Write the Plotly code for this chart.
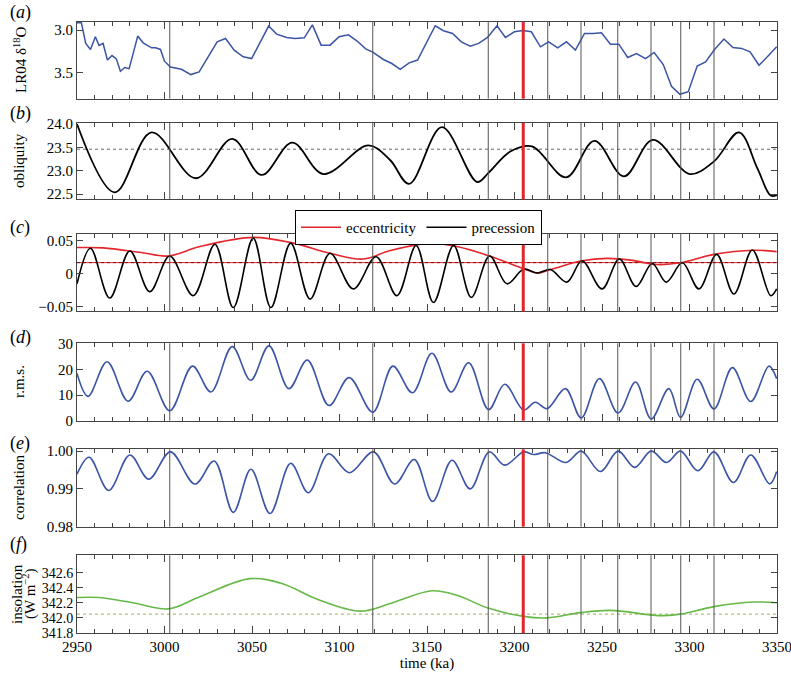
import plotly.graph_objects as go

# ---------------- data ----------------
lr04_t = [2950, 2952.5, 2955, 2957.7, 2960.5, 2962.6, 2964.9, 2967.4, 2970, 2972.5, 2974.8, 2977.3, 2979.8,
          2984.7, 2987.8, 2992.6, 2994.9, 2997.7, 3000, 3003.4, 3009.7, 3015, 3019.8, 3030.1, 3034.9, 3039.8,
          3045, 3049.8, 3059.5, 3064.1, 3069.8, 3074.6, 3079.9, 3084.5, 3089.5, 3094.6, 3099.8, 3105.1, 3109.9,
          3115, 3119, 3125.1, 3129.9, 3134.7, 3139.8, 3144.6, 3154.7, 3159.4, 3164.6, 3169.6, 3174.7, 3179.5,
          3184.6, 3190, 3194.8, 3199.9, 3204.9, 3209.6, 3214.8, 3219.5, 3224.7, 3229.7, 3234.8, 3240, 3244.9,
          3249.7, 3254.8, 3259.6, 3264.7, 3269.7, 3274.9, 3279.8, 3285, 3289.7, 3294.5, 3299.3, 3304.4, 3309.2,
          3314.3, 3319.7, 3324.8, 3329.8, 3334.6, 3339.7, 3344.5, 3349.8]
lr04_v = [2.915, 2.915, 3.156, 3.226, 3.078, 3.18, 3.156, 3.35, 3.297, 3.336, 3.48, 3.437, 3.45,
          3.07, 3.149, 3.207, 3.207, 3.226, 3.363, 3.43, 3.457, 3.519, 3.488, 3.137, 3.098, 3.234,
          3.312, 3.332, 2.953, 3.047, 3.086, 3.098, 3.09, 2.94, 3.176, 3.176, 3.078, 3.055, 3.125,
          3.219, 3.258, 3.343, 3.39, 3.457, 3.383, 3.35, 2.95, 3.008, 3.039, 3.137, 3.187, 3.156,
          3.086, 2.95, 3.086, 3.02, 3.004, 3.02, 3.195, 3.137, 3.207, 3.137, 3.234, 3.039, 3.039,
          3.031, 3.164, 3.164, 3.32, 3.273, 3.332, 3.261, 3.402, 3.656, 3.749, 3.718, 3.42, 3.371,
          3.226, 3.105, 3.203, 3.214, 3.254, 3.41, 3.312, 3.195]

obl_t = [2950, 2971.6, 2992.6, 3017.9, 3038.7, 3055.5, 3073, 3090.8, 3116.5, 3128.9, 3139.8, 3158.5,
         3178.6, 3185, 3197.6, 3210, 3229.5, 3245.7, 3262.5, 3279.1, 3300.1, 3314, 3328.3, 3338.8, 3346.4, 3350]
obl_v = [24.0, 22.54, 23.82, 22.84, 23.68, 22.91, 23.60, 22.93, 23.54, 23.23, 22.72, 23.93,
         22.76, 22.95, 23.41, 23.52, 22.86, 23.64, 22.88, 23.66, 22.93, 23.20, 23.82, 23.05, 22.47, 22.48]
obl_mean = 23.46

ecc_t = [2950, 2965, 2985.9, 3002.1, 3020.2, 3050.7, 3073.6, 3094.6, 3113.7, 3129, 3151.9, 3167.1,
         3185.2, 3205.2, 3212.9, 3220.5, 3238.6, 3252.9, 3266.3, 3281.5, 3294.9, 3314, 3336.8, 3349.8]
ecc_v = [0.0395, 0.0390, 0.0323, 0.0267, 0.041, 0.0549, 0.0462, 0.0308, 0.0221, 0.0349, 0.0462, 0.041,
         0.0272, 0.0077, 0.0010, 0.0062, 0.0195, 0.0231, 0.0205, 0.0138, 0.0164, 0.0292, 0.0354, 0.0333]
ecc_ref = 0.0167

prec_t = [2950, 2957.7, 2968.7, 2980.2, 2991.6, 3003, 3016.4, 3028.8, 3039.3, 3050.7, 3060.8, 3072.1,
          3083.2, 3094.6, 3107.9, 3120.9, 3132.8, 3143.8, 3153.7, 3165.2, 3175.3, 3185.8, 3195.7, 3205.2,
          3212.9, 3220.5, 3230, 3238.6, 3250, 3259.9, 3269.5, 3278.7, 3286.7, 3295.9, 3305.4, 3315.5,
          3325.4, 3335.9, 3346.4, 3349.8]
prec_v = [-0.0154, 0.0385, -0.0369, 0.0344, -0.0272, 0.0267, -0.0333, 0.0446, -0.0513, 0.0538, -0.0513, 0.0462,
          -0.0385, 0.0308, -0.0231, 0.0256, -0.0333, 0.0426, -0.0436, 0.0426, -0.0359, 0.0267, -0.0154, 0.0067,
          0.0010, 0.0062, -0.0128, 0.0195, -0.0231, 0.0221, -0.0195, 0.0154, -0.0128, 0.0164, -0.0231, 0.0292,
          -0.0308, 0.0359, -0.0333, -0.0231]

rms_t = [2950, 2956.3, 2967.2, 2979.2, 2990.1, 3003, 3016, 3026.5, 3038.7, 3049.2, 3059.7, 3071.1, 3081.6,
         3094, 3105.5, 3119, 3130.5, 3141.7, 3152.8, 3163.8, 3173.8, 3185.2, 3194.4, 3205.2, 3211.9, 3218.6,
         3229.1, 3238.1, 3248.5, 3259.2, 3269.2, 3278.1, 3288.2, 3294.9, 3304.4, 3314, 3324.5, 3335, 3345.4, 3349.8]
rms_v = [18.4, 9.5, 23.0, 7.6, 19.3, 3.9, 21.3, 11.2, 28.9, 15.8, 29.2, 12.5, 23.7,
         5.9, 16.8, 3.3, 21.3, 10.9, 26.3, 11.2, 22.6, 4.3, 14.2, 4.2, 7.2, 4.7,
         12.5, 1.05, 16.4, 3.0, 15.1, 0.66, 12.5, 1.3, 16.2, 4.6, 20.7, 7.5, 21.3, 16.4]

cor_t = [2950, 2956.9, 2968.1, 2980.2, 2991, 3003.4, 3017.4, 3028.4, 3039.3, 3049.4, 3060.3, 3072.1, 3082.2,
         3093.7, 3105.7, 3119.4, 3131.5, 3142.7, 3153.2, 3164.3, 3174.7, 3185.6, 3194.4, 3205.2, 3211, 3217.6,
         3229.5, 3238.1, 3249.1, 3259.2, 3268.7, 3278.1, 3286.9, 3294.9, 3304.8, 3314, 3325.1, 3335, 3345.8, 3349.8]
cor_v = [0.9939, 0.9984, 0.9896, 0.9990, 0.9926, 0.9998, 0.9913, 0.9974, 0.9838, 0.9952, 0.9835, 0.9968, 0.9890,
         0.9993, 0.9943, 0.9998, 0.9913, 0.9978, 0.9867, 0.9976, 0.9900, 0.9998, 0.9963, 0.9998, 0.9991, 0.9996,
         0.9970, 1.0000, 0.9946, 1.0000, 0.9957, 1.0000, 0.9970, 1.0000, 0.9948, 0.9998, 0.9917, 0.9990, 0.9913, 0.9946]

ins_t = [2950, 2963, 2982, 3002.1, 3020.2, 3048.8, 3067.9, 3087, 3111.8, 3128.9, 3152.8, 3167.1, 3184.9,
         3205.2, 3218.6, 3237.7, 3254.8, 3277.7, 3285.3, 3294.9, 3314, 3336.8, 3350]
ins_v = [342.27, 342.27, 342.20, 342.12, 342.28, 342.52, 342.45, 342.25, 342.09, 342.19, 342.36, 342.30, 342.13,
         342.02, 342.00, 342.07, 342.10, 342.04, 342.03, 342.05, 342.15, 342.21, 342.20]
ins_ref = 342.05

vline_t = [3003, 3119, 3185, 3219, 3238, 3259, 3278, 3295, 3314]
red_t = 3205

x_range = [2950, 3350]
x_ticks = [2950, 3000, 3050, 3100, 3150, 3200, 3250, 3300, 3350]

# ---------------- figure ----------------
FONT = "Liberation Serif"
BLUE = "#3b54a5"
RED = "#e3262b"
GREEN = "#66b946"

domains = [[0.8745, 1.0], [0.7098, 0.8347], [0.5265, 0.6530],
           [0.3475, 0.4741], [0.1740, 0.3007], [0.0, 0.1272]]

fig = go.Figure()

def add(x, y, i, color, width=1.6, shape="linear", dash=None, name=None, showlegend=False):
    fig.add_trace(go.Scatter(
        x=x, y=y, mode="lines", xaxis="x" if i == 1 else f"x{i}", yaxis="y" if i == 1 else f"y{i}",
        line=dict(color=color, width=width, shape=shape, dash=dash),
        name=name, showlegend=showlegend, hoverinfo="skip"))

add(lr04_t, lr04_v, 1, BLUE, 1.5)
add(x_range, [obl_mean, obl_mean], 2, "#666", 1.0, dash="dot")
add(obl_t, obl_v, 2, "black", 1.8, "spline")
add(x_range, [ecc_ref, ecc_ref], 3, RED, 1.0)
add(x_range, [ecc_ref, ecc_ref], 3, "#7a1010", 1.0, dash="dot")
add(ecc_t, ecc_v, 3, RED, 1.6, "spline", name="eccentricity", showlegend=True)
add(prec_t, prec_v, 3, "black", 1.6, "spline", name="precession", showlegend=True)
add(rms_t, rms_v, 4, BLUE, 1.6, "spline")
add(cor_t, cor_v, 5, BLUE, 1.6, "spline")
add(x_range, [ins_ref, ins_ref], 6, "#b6bd78", 1.2, dash="dot")
add(ins_t, ins_v, 6, GREEN, 1.6, "spline")

yspecs = [
    dict(range=[3.80, 2.906], tickvals=[3.0, 3.5], ticktext=["3.0", "3.5"], size=15),
    dict(range=[22.39, 24.02], tickvals=[22.5, 23.0, 23.5, 24.0], ticktext=["22.5", "23.0", "23.5", "24.0"], size=15),
    dict(range=[-0.057, 0.060], tickvals=[-0.05, 0, 0.05], ticktext=["\u22120.05", "0", "0.05"], size=15),
    dict(range=[0, 30.2], tickvals=[0, 10, 20, 30], ticktext=["0", "10", "20", "30"], size=15),
    dict(range=[0.98, 1.0005], tickvals=[0.98, 0.99, 1.0], ticktext=["0.98", "0.99", "1.00"], size=15),
    dict(range=[341.8, 342.83], tickvals=[341.8, 342.0, 342.2, 342.4, 342.6],
         ticktext=["341.8", "342.0", "342.2", "342.4", "342.6"], size=14),
]

layout = dict(
    template="none",
    width=791, height=675,
    margin=dict(l=77, r=14, t=22, b=42, autoexpand=False),
    paper_bgcolor="white", plot_bgcolor="white",
    font=dict(family=FONT, size=14, color="black"),
    showlegend=True,
    legend=dict(orientation="h", x=(295 - 77) / 700, y=(633 - 210) / 611, xanchor="left", yanchor="top",
                bordercolor="black", borderwidth=1, bgcolor="white",
                font=dict(family=FONT, size=15), itemwidth=40, tracegroupgap=0),
)

for i in range(1, 7):
    xk = "xaxis" if i == 1 else f"xaxis{i}"
    yk = "yaxis" if i == 1 else f"yaxis{i}"
    layout[xk] = dict(
        domain=[0, 1], anchor="y" if i == 1 else f"y{i}", range=x_range, automargin=False,
        tickvals=x_ticks, showticklabels=(i == 6), ticks="inside", ticklen=7, tickcolor="#444",
        showline=True, linecolor="#444", linewidth=1, mirror="ticks", showgrid=False, zeroline=False,
        minor=dict(ticks="inside", dtick=10, tick0=2950, ticklen=4, tickcolor="#444", showgrid=False),
        tickfont=dict(family=FONT, size=15), ticklabeloverflow="allow",
        title=dict(text="time (ka)", font=dict(family=FONT, size=15), standoff=0) if i == 6 else None,
    )
    ys = yspecs[i - 1]
    layout[yk] = dict(
        domain=domains[i - 1], anchor="x" if i == 1 else f"x{i}", range=ys["range"], automargin=False,
        tickvals=ys["tickvals"], ticktext=ys["ticktext"], ticks="inside", ticklen=6, tickcolor="#444",
        showline=True, linecolor="#444", linewidth=1, mirror="ticks", showgrid=False, zeroline=False,
        tickfont=dict(family=FONT, size=ys["size"]), ticklabeloverflow="allow",
    )

fig.update_layout(**layout)

# vertical lines in each panel
shapes = []
for i in range(1, 7):
    xr = "x" if i == 1 else f"x{i}"
    yr = ("y" if i == 1 else f"y{i}") + " domain"
    for t in vline_t:
        shapes.append(dict(type="line", xref=xr, yref=yr, x0=t, x1=t, y0=0, y1=1,
                           line=dict(color="#555", width=1), layer="above"))
    shapes.append(dict(type="line", xref=xr, yref=yr, x0=red_t, x1=red_t, y0=0, y1=1,
                       line=dict(color=RED, width=3), layer="above"))
fig.update_layout(shapes=shapes)

# panel labels and y titles (pixel -> paper)
def px(xp):
    return (xp - 77) / 700

def py(yp):
    return (633 - yp) / 611

anns = []
labels = [("a", 12), ("b", 114), ("c", 227), ("d", 337), ("e", 443), ("f", 544)]
for letter, yp in labels:
    anns.append(dict(text=f"(<i>{letter}</i>)", x=px(8), y=py(yp), xref="paper", yref="paper",
                     xanchor="left", yanchor="middle", showarrow=False, font=dict(family=FONT, size=18)))

ytitles = [("LR04 δ<sup>18</sup>O", 20, 60), ("obliquity", 19, 161), ("r.m.s.", 19, 382),
           ("correlation", 19, 488), ("insolation", 17, 594), ("(W m<sup>\u22122</sup>)", 29, 594)]
for txt, xp, yp in ytitles:
    anns.append(dict(text=txt, x=px(xp), y=py(yp), xref="paper", yref="paper", textangle=-90,
                     xanchor="center", yanchor="middle", showarrow=False, font=dict(family=FONT, size=15)))
fig.update_layout(annotations=anns)

post = ("document.documentElement.style.margin='0';document.documentElement.style.padding='0';"
        "document.body.style.margin='0';document.body.style.padding='0';document.body.style.overflow='hidden';")
fig.write_html("out.html", post_script=post, config={"displayModeBar": False})
